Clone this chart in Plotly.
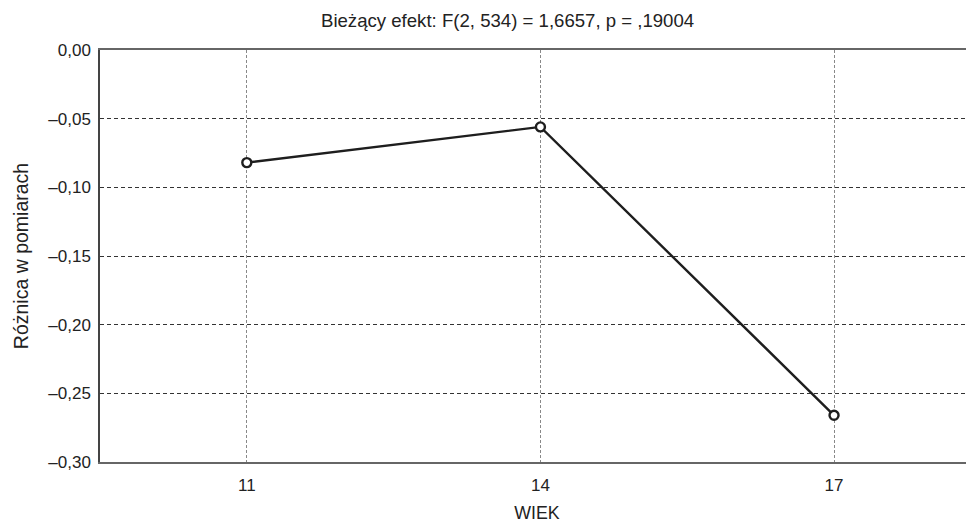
import plotly.graph_objects as go

wiek = [11, 14, 17]
roznica = [-0.082, -0.056, -0.266]
y_ticks = [0.0, -0.05, -0.10, -0.15, -0.20, -0.25, -0.30]
y_labels = ["0,00", "–0,05", "–0,10", "–0,15", "–0,20", "–0,25", "–0,30"]
x_ticks = [11, 14, 17]
x_labels = ["11", "14", "17"]
title = "Bieżący efekt: F(2, 534) = 1,6657, p = ,19004"

fig = go.Figure()
fig.add_trace(go.Scatter(
    x=wiek, y=roznica, mode="lines+markers",
    line=dict(color="#1e1e1e", width=2.4),
    marker=dict(symbol="circle", size=9, color="white",
                line=dict(color="#1e1e1e", width=2.4)),
    showlegend=False, cliponaxis=False,
))

# page body has an 8px margin; compensate so plot area sits at x 100..974, y 50..462
fig.update_layout(
    width=966, height=515,
    margin=dict(l=92, r=0, t=42, b=61),
    paper_bgcolor="white", plot_bgcolor="white",
    font=dict(family="Liberation Sans, Arial, sans-serif", size=17, color="#222"),
    annotations=[dict(text=title, xref="x domain", yref="y domain",
                      x=(507 - 100) / 874, y=1 + (50 - 21) / 412,
                      xanchor="center", yanchor="middle", showarrow=False,
                      font=dict(size=18.6, color="#222"))],
)

fig.update_xaxes(
    range=[9.5, 18.43], tickvals=x_ticks, ticktext=x_labels,
    showline=True, linecolor="#666", linewidth=1.5, mirror=True,
    showgrid=True, gridcolor="#888", griddash="3px,2px", gridwidth=1,
    ticks="", zeroline=False, ticklabelstandoff=7,
    title=dict(text="WIEK", font=dict(size=17.8), standoff=16),
)
fig.update_yaxes(
    range=[-0.30, 0.0], tickvals=y_ticks, ticktext=y_labels,
    showline=True, linecolor="#444", linewidth=1.5,
    showgrid=True, gridcolor="#333", griddash="4px,3px", gridwidth=1,
    ticks="", zeroline=False, ticklabelstandoff=4,
    title=dict(text="Różnica w pomiarach", font=dict(size=19.5), standoff=14),
)

fig.write_html("out.html")
